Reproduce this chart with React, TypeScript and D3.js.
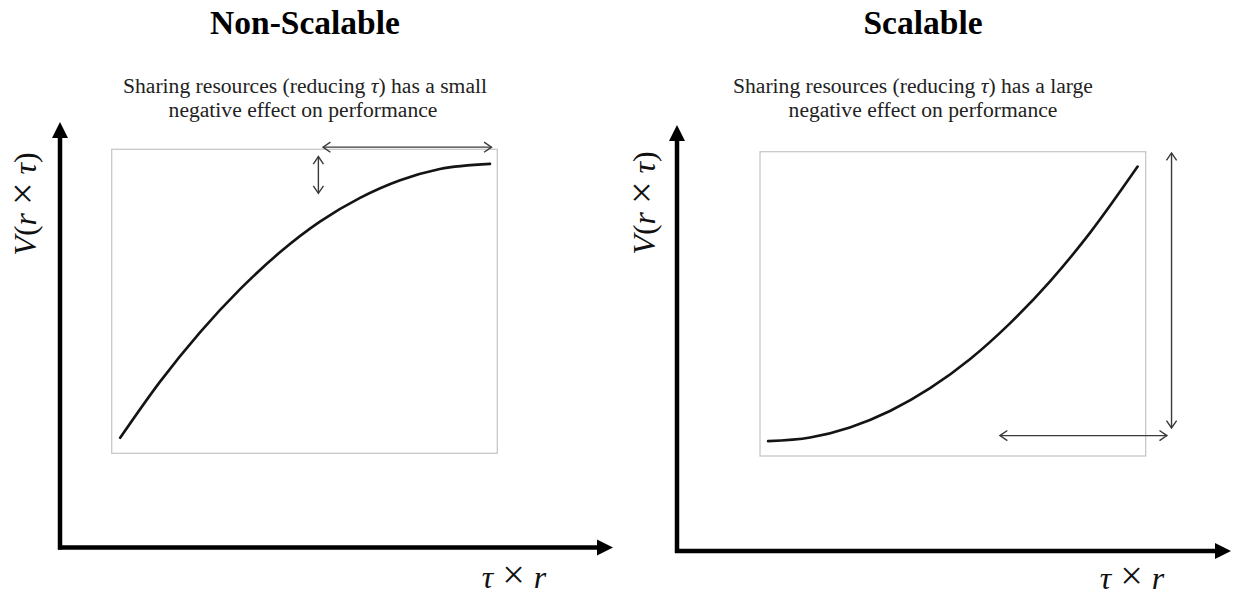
import React from "react";
import * as d3 from "d3";

// ---- data (conceptual units 0..10 inside each plot box) ----
const nonScalableX = [0.22, 1.25, 2.29, 3.33, 4.37, 5.4, 6.44, 7.48, 8.51, 9.81];
const nonScalableY = [0.51, 2.35, 3.98, 5.4, 6.62, 7.62, 8.4, 8.98, 9.35, 9.52];
const scalableX = [0.21, 1.3, 2.33, 3.37, 4.41, 5.45, 6.48, 7.52, 8.56, 9.79];
const scalableY = [0.49, 0.61, 0.94, 1.48, 2.23, 3.19, 4.36, 5.74, 7.34, 9.51];

// double arrows: [x1, y1, x2, y2] in data units
const nonScalableArrows = [
  [5.48, 10.07, 9.85, 10.07],
  [5.36, 9.76, 5.36, 8.55],
];
const scalableArrows = [
  [10.67, 9.96, 10.67, 0.92],
  [6.22, 0.67, 10.55, 0.67],
];

const titles = ["Non-Scalable", "Scalable"];
const subtitlesLine1 = [
  ["Sharing resources (reducing ", "τ", ") has a small"],
  ["Sharing resources (reducing ", "τ", ") has a large"],
];
const subtitleLine2 = "negative effect on performance";

const serif = "'Liberation Serif', 'Times New Roman', serif";

type PanelProps = {
  xs: number[];
  ys: number[];
  arrows: number[][];
  title: string;
  sub1: string[];
  box: { x0: number; x1: number; y0: number; y1: number };
  axis: { x: number; y: number; top: number; right: number };
  titleX: number;
  sub1X: number;
  sub2X: number;
  yLabel: { x: number; y: number };
  xLabel: { x: number; y: number };
  id: string;
};

function Panel(p: PanelProps) {
  const xScale = d3.scaleLinear().domain([0, 10]).range([p.box.x0, p.box.x1]);
  const yScale = d3.scaleLinear().domain([0, 10]).range([p.box.y1, p.box.y0]);
  const pts: [number, number][] = p.xs.map((x, i) => [x, p.ys[i]]);
  const line = d3
    .line<[number, number]>()
    .x((d) => xScale(d[0]))
    .y((d) => yScale(d[1]))
    .curve(d3.curveMonotoneX);

  const ax = p.axis;
  const headLen = 16;
  const headHalf = 8;
  const labelSize = 32;

  return (
    <g>
      <text
        x={p.titleX}
        y={34}
        textAnchor="middle"
        fontFamily={serif}
        fontWeight="bold"
        fontSize={33.5}
        fill="#000"
      >
        {p.title}
      </text>
      <text x={p.sub1X} y={93} textAnchor="middle" fontFamily={serif} fontSize={21.6} fill="#222">
        <tspan>{p.sub1[0]}</tspan>
        <tspan fontStyle="italic">{p.sub1[1]}</tspan>
        <tspan>{p.sub1[2]}</tspan>
      </text>
      <text x={p.sub2X} y={117} textAnchor="middle" fontFamily={serif} fontSize={21.6} fill="#222">
        {subtitleLine2}
      </text>

      {/* plot box */}
      <rect
        x={p.box.x0}
        y={p.box.y0}
        width={p.box.x1 - p.box.x0}
        height={p.box.y1 - p.box.y0}
        fill="none"
        stroke="#c8c8c8"
        strokeWidth={1.3}
      />

      {/* curve */}
      <path d={line(pts) || ""} fill="none" stroke="#141414" strokeWidth={2.6} strokeLinecap="round" />

      {/* double arrows */}
      {p.arrows.map((a, i) => {
        const x1 = xScale(a[0]);
        const y1 = yScale(a[1]);
        const x2 = xScale(a[2]);
        const y2 = yScale(a[3]);
        const ang = Math.atan2(y2 - y1, x2 - x1);
        const L = 9;
        const W = 0.6;
        const head = (x: number, y: number, dir: number) =>
          `M${x + L * Math.cos(dir + W)},${y + L * Math.sin(dir + W)} L${x},${y} L${x + L * Math.cos(dir - W)},${y + L * Math.sin(dir - W)}`;
        return (
          <g key={i} stroke="#3a3a3a" strokeWidth={1.4} fill="none">
            <line x1={x1} y1={y1} x2={x2} y2={y2} />
            <path d={head(x1, y1, ang)} />
            <path d={head(x2, y2, ang + Math.PI)} />
          </g>
        );
      })}

      {/* axes */}
      <line x1={ax.x} y1={ax.y + 2} x2={ax.x} y2={ax.top + headLen - 1} stroke="#000" strokeWidth={4.5} />
      <polygon
        points={`${ax.x},${ax.top} ${ax.x - headHalf},${ax.top + headLen} ${ax.x + headHalf},${ax.top + headLen}`}
        fill="#000"
      />
      <line x1={ax.x - 2} y1={ax.y} x2={ax.right - headLen + 1} y2={ax.y} stroke="#000" strokeWidth={4.5} />
      <polygon
        points={`${ax.right},${ax.y} ${ax.right - headLen},${ax.y - headHalf} ${ax.right - headLen},${ax.y + headHalf}`}
        fill="#000"
      />

      {/* axis labels */}
      <text
        transform={`translate(${p.yLabel.x},${p.yLabel.y}) rotate(-90)`}
        textAnchor="middle"
        fontFamily={serif}
        fontSize={labelSize}
        fill="#111"
      >
        <tspan fontStyle="italic">V</tspan>
        <tspan>(</tspan>
        <tspan fontStyle="italic">r</tspan>
        <tspan dx={8} fontSize={labelSize * 1.25}>×</tspan>
        <tspan dx={8} fontStyle="italic">τ</tspan>
        <tspan>)</tspan>
      </text>
      <text x={p.xLabel.x} y={p.xLabel.y} textAnchor="middle" fontFamily={serif} fontSize={labelSize} fill="#111">
        <tspan fontStyle="italic">τ</tspan>
        <tspan dx={9} fontSize={labelSize * 1.25}>×</tspan>
        <tspan dx={9} fontStyle="italic">r</tspan>
      </text>
    </g>
  );
}

export default function App() {
  return (
    <svg
      width={1235}
      height={600}
      style={{ position: "absolute", left: 0, top: 0, background: "#fff" }}
    >
      <rect width={1235} height={600} fill="#fff" />
      <Panel
        id="left"
        xs={nonScalableX}
        ys={nonScalableY}
        arrows={nonScalableArrows}
        title={titles[0]}
        sub1={subtitlesLine1[0]}
        box={{ x0: 111.7, x1: 497.3, y0: 149.3, y1: 453.3 }}
        axis={{ x: 60, y: 547.5, top: 122, right: 613 }}
        titleX={305}
        sub1X={305}
        sub2X={303}
        yLabel={{ x: 36, y: 204 }}
        xLabel={{ x: 514, y: 588 }}
      />
      <Panel
        id="right"
        xs={scalableX}
        ys={scalableY}
        arrows={scalableArrows}
        title={titles[1]}
        sub1={subtitlesLine1[1]}
        box={{ x0: 760, x1: 1145.7, y0: 151.7, y1: 456 }}
        axis={{ x: 677, y: 551, top: 125, right: 1231 }}
        titleX={923}
        sub1X={913}
        sub2X={923}
        yLabel={{ x: 655, y: 203 }}
        xLabel={{ x: 1132, y: 589 }}
      />
    </svg>
  );
}
